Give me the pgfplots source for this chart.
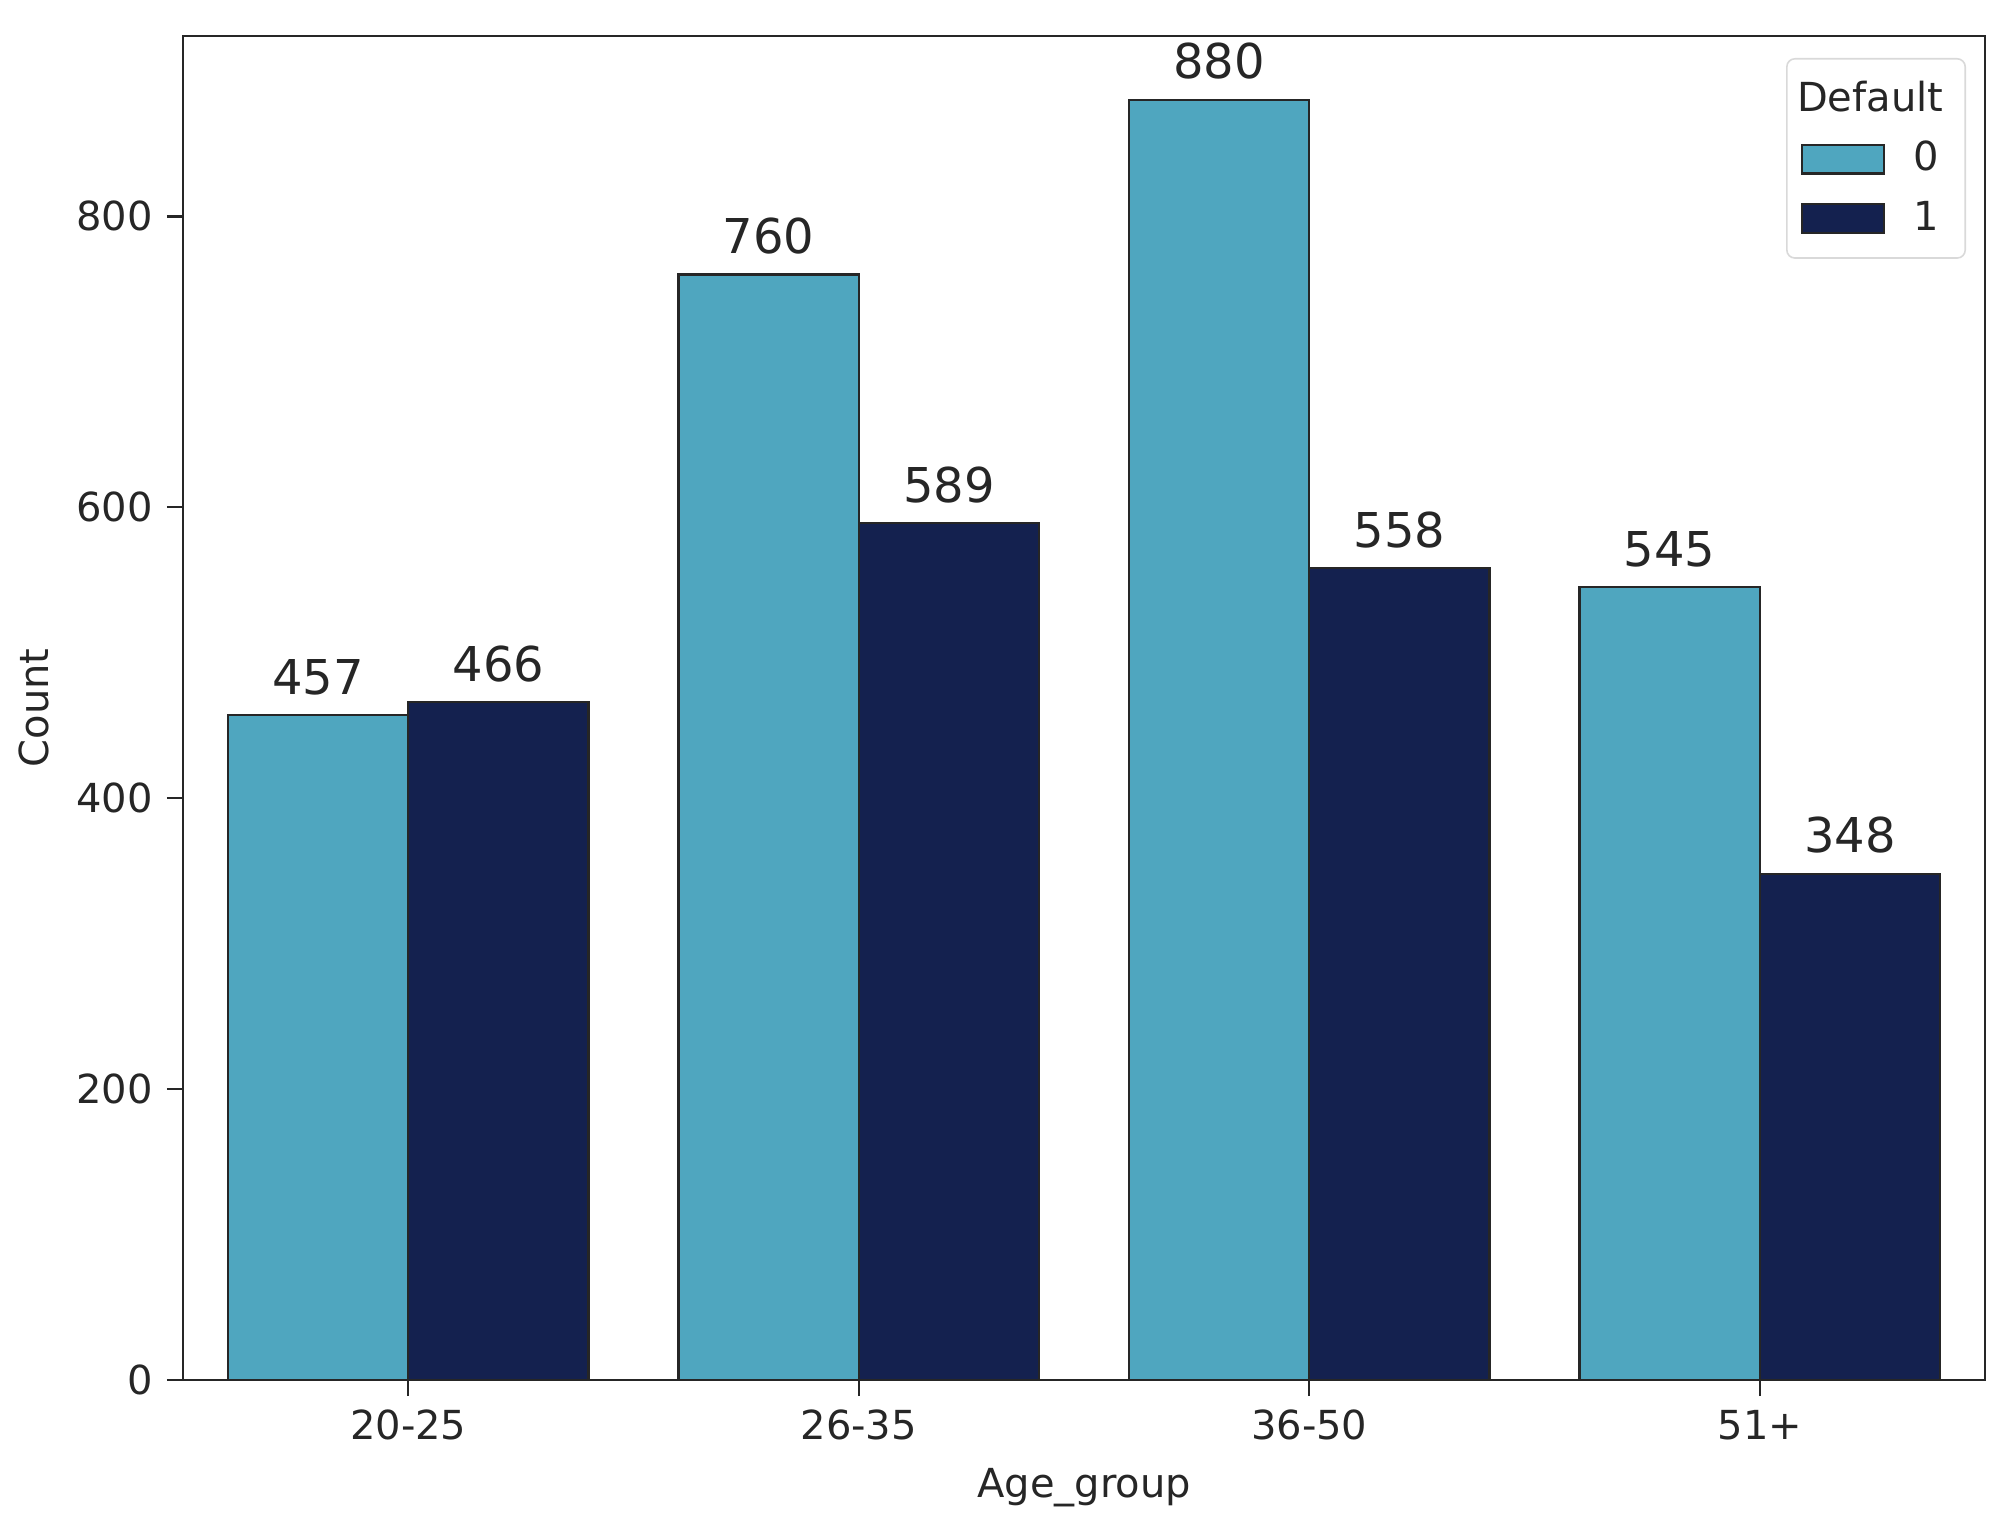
\documentclass[border=0pt]{standalone}
\usepackage{pgfplots}
\pgfplotsset{compat=1.18}
\usepackage{fontspec}
\setmainfont{DejaVu Sans}
\definecolor{cA}{HTML}{4FA6BF}
\definecolor{cB}{HTML}{14214F}
\definecolor{tk}{HTML}{262626}
\begin{document}
\begin{tikzpicture}
\begin{axis}[
  scale only axis,
  width=450.5pt, height=336pt,
  xmin=-0.5, xmax=3.5, ymin=0, ymax=924,
  xtick={0,1,2,3},
  xticklabels={20-25,26-35,36-50,51+},
  ytick={0,200,400,600,800},
  /pgf/number format/assume math mode=true,
  tick label style={font=\fontsize{10}{12}\selectfont, text=tk},
  label style={font=\fontsize{10}{12}\selectfont, text=tk},
  xlabel={Age\_group}, ylabel={Count},
  tick align=outside, tick pos=left,
  major tick length=4pt,
  every tick/.style={tk, line width=0.6pt},
  axis line style={tk, line width=0.6pt},
  axis lines*=box,
  bar width=0.4,
  ybar, bar shift=0pt,
  nodes near coords,
  every node near coord/.style={font=\fontsize{12}{14}\selectfont, text=tk, yshift=1.5pt},
  legend style={at={(1,1)}, xshift=-4.75pt, yshift=-5.5pt, anchor=north east,
    draw=black!15, rounded corners=2pt, font=\fontsize{10}{12}\selectfont,
    text=tk, row sep=2pt, inner sep=3.5pt},
  legend cell align=left,
  area legend,
  legend image code/.code={\draw[#1, sharp corners] (0pt,-3.6pt) rectangle (20.5pt,3.6pt);},
]
\addlegendimage{empty legend}
\addlegendentry{\hspace{-24pt}Default}
\addplot[fill=cA, draw=black!85, line width=0.55pt] coordinates {(-0.2,457) (0.8,760) (1.8,880) (2.8,545)};
\addlegendentry{\hspace{5pt}0}
\addplot[fill=cB, draw=black!85, line width=0.55pt] coordinates {(0.2,466) (1.2,589) (2.2,558) (3.2,348)};
\addlegendentry{\hspace{5pt}1}
\end{axis}
\path (current axis.south west) ++(-45.75pt,-37.5pt) (current axis.north east) ++(5.75pt,9pt);
\end{tikzpicture}
\end{document}
